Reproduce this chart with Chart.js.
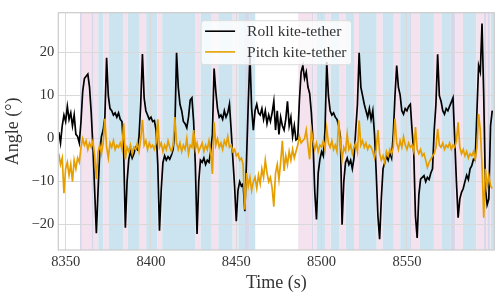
<!DOCTYPE html>
<html lang="en">

<head>
    <meta charset="UTF-8">
    <title>Kite-tether angles</title>
    <script src="https://cdn.jsdelivr.net/npm/chart.js"></script>
    <style>
        html, body { margin: 0; padding: 0; background: #fff; }
        #wrap { width: 500px; height: 298px; }
    </style>
</head>

<body>
    <div id="wrap"><canvas id="angleChart" width="500" height="298"></canvas></div>

    <script>
        // sample times (s): one sample per second starting here
        const tStart = 8346;

        const roll = [
            1.5, -1.0, 3.0, 5.5, 4.0, 7.5, 4.5, 6.0, 3.0, 5.5,
            1.0, 0.5, -1.0, 4.0, 11.0, 14.0, 14.5, 15.0, 12.0, 6.0,
            -2.0, -12.0, -22.0, -12.0, -3.0, 0.5, 2.0, 5.0, 18.8, 10.0,
            7.0, 6.5, 5.5, 6.0, 5.0, 6.0, 4.5, 4.0, -3.0, -20.7,
            -10.0, -4.8, -3.0, -4.5, -3.5, -2.0, -2.5, 0.5, 8.0, 19.7,
            9.5, 6.5, 5.5, 4.5, 5.0, 4.0, 4.2, 2.0, -6.0, -21.4,
            -12.0, -5.6, -4.0, -5.0, -4.2, -4.8, -3.8, -2.5, 2.0, 20.0,
            12.0, 8.0, 6.5, 4.0, 3.5, 2.5, 5.0, 9.0, 9.5, 4.0,
            -6.0, -22.2, -10.0, -5.0, -5.5, -4.5, -6.0, -5.0, -5.5, -3.0,
            1.0, 16.3, 11.0, 7.0, 5.0, 5.5, 4.5, 6.5, 5.0, 6.0,
            8.0, 2.0, -4.8, -11.0, -19.2, -12.0, -10.0, -11.0, -10.5, -16.9,
            -5.0, 8.0, 19.3, 7.0, 2.0, 6.5, 8.0, 6.0, 5.5, 7.0,
            4.5, 6.5, 3.5, 5.5, 4.0, 6.0, 8.7, 2.0, 6.5, 1.0,
            5.0, 3.0, 2.0, 4.5, 8.7, 3.0, 5.0, 0.5, 3.0, -0.3,
            0.0, 9.0, 15.5, 17.0, 14.0, 15.5, 12.0, 10.5, 6.0, -1.0,
            -12.4, -18.8, -8.0, -4.8, -3.0, -4.0, 2.0, 17.8, 10.0, 6.5,
            5.5, 6.0, 5.0, 4.5, 3.0, 0.5, -20.0, -10.0, -5.6, -4.5,
            -6.0, -5.0, -7.0, -4.5, 2.0, 8.0, 20.0, 12.0, 10.0, 8.0,
            6.5, 5.0, 7.0, 4.5, 6.5, 1.0, -8.0, -18.0, -23.4, -13.9,
            -7.0, -5.6, -4.0, -5.0, -3.3, -4.5, 1.0, 10.0, 17.0, 12.0,
            10.2, 6.5, 5.7, 7.0, 6.5, 7.5, 8.0, 2.0, -3.3, -18.0,
            -23.1, -13.0, -9.4, -9.0, -8.6, -10.0, -9.0, -9.5, -8.0, -7.0,
            2.0, 8.0, 19.6, 10.0, 8.7, 6.5, 5.7, 7.0, 6.5, 7.5,
            8.5, 9.5, 0.0, -10.0, -18.4, -14.0, -12.5, -11.6, -10.0, -8.5,
            -9.5, -7.0, -6.3, -4.8, -5.0, 6.0, 17.0, 15.5, 26.8, 10.0,
            -11.6, -15.4, -14.0, 3.0, 6.5
        ];

        const pitch = [
            -3.5, -6.0, -4.5, -12.7, -7.0, -5.5, -8.5, -6.0, -10.0, -5.0,
            -7.0, -4.5, -5.5, -2.0, 0.0, -1.5, -0.5, -2.5, -1.0, -2.0,
            -0.5, -4.0, -9.4, -3.0, -1.5, -3.5, -1.0, 4.6, -2.0, -4.5,
            -1.0, -2.0, -0.5, -2.5, -1.5, -2.0, -1.0, -2.5, 3.6, -4.8,
            -2.0, -3.0, -1.5, -3.5, -2.0, -2.5, -1.0, -3.0, 0.0, 4.4,
            -1.5, -0.5, -2.5, -1.0, -2.0, -1.5, -2.5, -1.0, 4.5, -2.0,
            -1.0, -3.0, -1.5, -2.5, -0.5, -2.0, -3.0, -1.5, 5.0, -1.0,
            -2.5, -1.0, -3.0, -1.5, -2.5, 0.0, -3.5, -1.5, -2.0, 2.0,
            -2.5, -1.0, -3.0, -2.0, -1.0, -3.0, -1.5, -2.5, -0.5, -3.0,
            -8.2, 3.8, -1.5, 0.0, -2.0, -1.0, -2.5, -0.5, -1.5, 0.5,
            -2.0, -1.5, -3.0, -2.5, -4.0, -3.5, -5.0, -4.5, -6.0, -16.5,
            -8.0, -11.0, -9.0, -12.0, -10.0, -9.0, -11.5, -8.5, -10.5, -7.0,
            -9.0, -5.0, -8.0, -10.0, -9.0, -11.5, -15.8, -8.0, -6.0, -9.5,
            -5.5, -0.5, -7.5, -4.0, -6.0, -3.0, -5.0, -2.5, -4.5, -3.0,
            -1.5, 0.5, -1.0, -0.5, 0.0, 2.0, -1.5, -4.8, 2.0, -0.5,
            -2.5, -1.0, -3.0, -1.5, -2.0, -0.5, -2.5, 2.3, -1.0, -2.0,
            -0.5, -2.5, -1.5, -3.0, 4.2, -1.0, -4.8, -2.0, -3.0, 1.0,
            -2.5, -1.5, -3.5, -2.0, -1.0, -3.0, 4.2, -1.5, -0.5, -2.0,
            -1.0, -2.5, -1.5, -2.0, -3.0, -4.5, -2.5, 2.0, -3.5, -5.0,
            -4.0, -5.6, -3.0, -4.0, -2.5, -3.5, -2.0, 4.6, -1.0, -2.5,
            -0.5, -2.0, 0.4, -1.5, -2.5, -1.0, -2.0, -1.5, -3.0, 2.7,
            -2.5, -3.5, -2.5, -4.0, -3.5, -5.0, -6.7, -5.5, -4.8, -4.0,
            -3.5, -2.0, 2.3, -1.5, -2.0, -1.0, -2.5, -1.5, -2.0, -1.0,
            -2.5, -1.5, -2.0, -0.5, 3.8, -2.0, -3.5, -2.5, -4.0, -3.0,
            -4.5, -3.5, -4.0, -3.0, -4.8, -2.0, 5.7, 2.0, -6.0, -18.4,
            -7.0, -11.0, -8.6, -11.0, -11.6
        ];

        const xTicks = [8350, 8400, 8450, 8500, 8550];
        const yTicks = [-20, -10, 0, 10, 20];

        // shaded phases: start / end time (s) and kind (p = pink, b = blue, m = overlap)
        const bandStart = [8358.4, 8359.5, 8365.2, 8366.4, 8369.1, 8372.0, 8375.2, 8383.6, 8386.5, 8393.4,
            8397.2, 8403.7, 8406.6, 8425.8, 8429.1, 8435.6, 8439.5, 8447.9, 8451.2, 8455.1,
            8457.5, 8486.3, 8494.2, 8495.1, 8497.1, 8502.4, 8505.3, 8510.2, 8514.1, 8519.0,
            8521.9, 8532.3, 8535.8, 8542.3, 8546.1, 8551.4, 8552.4, 8557.6, 8565.8, 8570.2,
            8575.7, 8578.4, 8582.8, 8590.7, 8595.2, 8596.4, 8597.2, 8598.6, 8599.2];
        const bandEnd = [8359.5, 8365.2, 8366.4, 8369.1, 8372.0, 8375.2, 8383.6, 8386.5, 8393.4, 8397.2,
            8403.7, 8406.6, 8425.8, 8429.1, 8435.6, 8439.5, 8447.9, 8451.2, 8455.1, 8457.5,
            8461.1, 8494.2, 8495.1, 8497.1, 8502.4, 8505.3, 8510.2, 8514.1, 8519.0, 8521.9,
            8532.3, 8535.8, 8542.3, 8546.1, 8551.4, 8552.4, 8557.6, 8565.8, 8570.2, 8575.7,
            8578.4, 8582.8, 8590.7, 8595.2, 8596.4, 8597.2, 8598.6, 8599.2, 8601.3];
        const bandKind = ['m', 'p', 'm', 'p', 'b', 'p', 'b', 'p', 'b', 'p',
            'b', 'p', 'b', 'p', 'b', 'p', 'b', 'p', 'b', 'm',
            'b', 'p', 'm', 'p', 'b', 'p', 'b', 'p', 'b', 'p',
            'b', 'p', 'b', 'p', 'b', 'm', 'p', 'b', 'p', 'b',
            'm', 'p', 'b', 'p', 'm', 'p', 'm', 'p', 'b'];

        const bandColors = { p: '#f4e3ee', b: '#cce4ef', m: '#d6d8ea' };
        const serif = "'Liberation Serif', 'DejaVu Serif', serif";

        const times = roll.map((_, i) => tStart + i);
        const toPoints = arr => arr.map((v, i) => ({ x: times[i], y: v }));

        // background phase bands, under the grid
        const bandsPlugin = {
            id: 'bands',
            beforeDraw(chart) {
                const { ctx, chartArea: a, scales: { x } } = chart;
                ctx.save();
                ctx.beginPath();
                ctx.rect(a.left, a.top, a.right - a.left, a.bottom - a.top);
                ctx.clip();
                bandStart.forEach((s, i) => {
                    const x0 = x.getPixelForValue(s);
                    const x1 = x.getPixelForValue(bandEnd[i]);
                    ctx.fillStyle = bandColors[bandKind[i]];
                    ctx.fillRect(x0, a.top, x1 - x0, a.bottom - a.top);
                });
                ctx.restore();
            }
        };

        // frame around the plot and the legend box
        const frameLegendPlugin = {
            id: 'frameLegend',
            afterDatasetsDraw(chart) {
                const { ctx, chartArea: a } = chart;
                ctx.save();
                ctx.strokeStyle = '#cccccc';
                ctx.lineWidth = 1.25;
                ctx.strokeRect(a.left, a.top, a.right - a.left, a.bottom - a.top);

                const sets = chart.data.datasets;
                ctx.font = '15.5px ' + serif;
                const textW = Math.max(...sets.map(d => ctx.measureText(d.label).width));
                const w = textW + 51;
                const h = 44;
                const left = (a.left + a.right) / 2 - w / 2;
                const top = a.top + 8;

                ctx.fillStyle = 'rgba(255,255,255,0.8)';
                ctx.strokeStyle = '#dddddd';
                ctx.lineWidth = 1;
                ctx.beginPath();
                ctx.roundRect(left, top, w, h, 3);
                ctx.fill();
                ctx.stroke();

                ctx.textBaseline = 'middle';
                ctx.textAlign = 'left';
                sets.forEach((d, i) => {
                    const y = top + 10.5 + i * 20.7;
                    ctx.strokeStyle = d.borderColor;
                    ctx.lineWidth = 1.6;
                    ctx.beginPath();
                    ctx.moveTo(left + 4, y);
                    ctx.lineTo(left + 34, y);
                    ctx.stroke();
                    ctx.fillStyle = '#333333';
                    ctx.fillText(d.label, left + 46, y + 1);
                });
                ctx.restore();
            }
        };

        const ctx = document.getElementById('angleChart').getContext('2d');
        new Chart(ctx, {
            type: 'line',
            data: {
                datasets: [
                    {
                        label: 'Roll kite-tether',
                        data: toPoints(roll),
                        borderColor: '#000000',
                        borderWidth: 1.7,
                        pointRadius: 0,
                        tension: 0,
                        order: 2
                    },
                    {
                        label: 'Pitch kite-tether',
                        data: toPoints(pitch),
                        borderColor: '#e69f00',
                        borderWidth: 1.7,
                        pointRadius: 0,
                        tension: 0,
                        order: 1
                    }
                ]
            },
            options: {
                responsive: false,
                animation: false,
                events: [],
                layout: { padding: { top: 6, right: 5.7, left: 0, bottom: 0 } },
                plugins: {
                    legend: { display: false },
                    tooltip: { enabled: false }
                },
                scales: {
                    x: {
                        type: 'linear',
                        min: 8345.7,
                        max: 8601.2,
                        afterFit: s => { s.height = 48; },
                        afterBuildTicks: s => { s.ticks = xTicks.map(v => ({ value: v })); },
                        grid: { color: '#d9d9d9', lineWidth: 1, drawTicks: false },
                        border: { display: false },
                        ticks: {
                            padding: 3,
                            color: '#333333',
                            font: { family: serif, size: 14.5 },
                            callback: v => String(v)
                        },
                        title: {
                            display: true,
                            text: 'Time (s)',
                            color: '#333333',
                            font: { family: serif, size: 18 },
                            padding: { top: 0, bottom: 4 }
                        }
                    },
                    y: {
                        type: 'linear',
                        min: -25.9,
                        max: 29.3,
                        afterFit: s => { s.width = 58.3; },
                        afterBuildTicks: s => { s.ticks = yTicks.map(v => ({ value: v })); },
                        grid: { color: '#d9d9d9', lineWidth: 1, drawTicks: false },
                        border: { display: false },
                        ticks: {
                            padding: 4,
                            color: '#333333',
                            font: { family: serif, size: 14.5 },
                            callback: v => String(v).replace('-', '\u2212')
                        },
                        title: {
                            display: true,
                            text: 'Angle (°)',
                            color: '#333333',
                            font: { family: serif, size: 18 },
                            padding: { top: 2, bottom: 0 }
                        }
                    }
                }
            },
            plugins: [bandsPlugin, frameLegendPlugin]
        });
    </script>
</body>

</html>
